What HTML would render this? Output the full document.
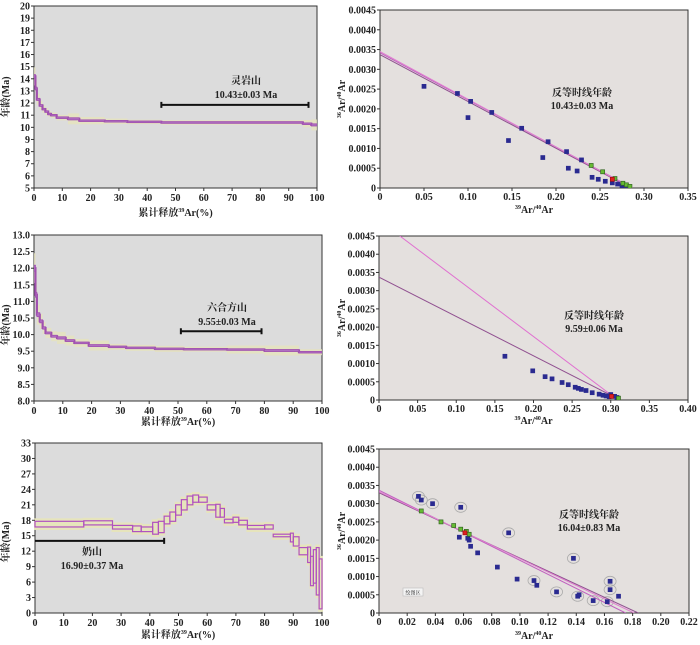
<!DOCTYPE html>
<html><head><meta charset="utf-8"><style>
html,body{margin:0;padding:0;background:#fff;width:700px;height:645px;overflow:hidden}
svg{display:block}
text{font-family:"Liberation Serif","Noto Serif CJK SC","Noto Sans CJK SC",serif;fill:#222}
.tk{font-size:10px;font-weight:bold}
.ann{font-size:10px;font-weight:bold}
</style></head><body>
<svg id="fig" width="700" height="645" viewBox="0 0 700 645" xmlns="http://www.w3.org/2000/svg"></svg>
<script>
// ---- Panel A (灵岩山) spectrum data
const aStart=[0,0.5,1,2,3,4,5,6,8,12,16,25,33,45,95,98];
const aEnd=[0.5,1,2,3,4,5,6,8,12,16,25,33,45,95,98,100];
const aAge=[14.2,13.2,12.3,11.8,11.5,11.3,11.1,11.0,10.8,10.7,10.55,10.5,10.45,10.4,10.3,10.2];
const aErr=[0.5,0.4,0.3,0.25,0.2,0.2,0.15,0.15,0.15,0.3,0.2,0.15,0.12,0.12,0.2,0.3];
const aTicksY=[5,6,7,8,9,10,11,12,13,14,15,16,17,18,19,20];
const pctTicks=[0,10,20,30,40,50,60,70,80,90,100];
// ---- Panel C (六合方山) spectrum data
const cStart=[0,0.5,1,2,3,4,6,8,11,14,19,26,32,42,52,67,80,92];
const cEnd=[0.5,1,2,3,4,6,8,11,14,19,26,32,42,52,67,80,92,100];
const cAge=[12.0,11.2,10.6,10.4,10.2,10.05,9.95,9.9,9.82,9.75,9.67,9.63,9.6,9.57,9.56,9.55,9.52,9.47];
const cErr=[0.3,0.25,0.2,0.15,0.12,0.1,0.1,0.12,0.1,0.08,0.1,0.06,0.06,0.06,0.05,0.08,0.1,0.06];
const cTicksY=[8.0,8.5,9.0,9.5,10.0,10.5,11.0,11.5,12.0,12.5,13.0];
// ---- Panel E (奶山) spectrum data
const eStart=[0,17,27,34,37,41,43,45,47,49,51,53,55,57,60,63,64.5,66,69,71,74,80,83,89,90,92,95,96,97,98,99];
const eEnd=[17,27,34,37,41,43,45,47,49,51,53,55,57,60,63,64.5,66,69,71,74,80,83,89,90,92,95,96,97,98,99,100];
const eLow=[16.7,17.1,16.3,15.8,15.8,15.3,15.6,17.3,17.8,19.0,20.0,21.0,21.5,21.5,20.0,18.6,18.6,17.5,17.6,17.1,16.3,16.3,14.8,13.8,13.0,11.3,9.8,5.3,5.8,3.5,0.8];
const eHigh=[17.8,17.9,17.0,16.9,16.7,17.6,17.8,18.8,19.6,21.0,22.0,22.7,22.9,22.5,21.0,21.1,20.3,18.2,18.6,18.0,17.0,17.1,15.3,15.5,14.8,12.7,12.8,11.0,12.3,12.7,10.5];
const eTicksY=[0,3,6,9,12,15,18,21,24,27,30,33];
// ---- Panel B isochron data
const bBlueX=[0.05,0.088,0.100,0.103,0.127,0.146,0.161,0.185,0.191,0.212,0.214,0.224,0.229,0.241,0.248,0.256,0.264,0.270,0.275,0.279];
const bBlueY=[0.00257,0.00239,0.00178,0.00219,0.00191,0.0012,0.00151,0.00077,0.00117,0.00092,0.0005,0.00043,0.00071,0.00027,0.00022,0.00017,0.00013,0.0001,0.00006,0.00002];
const bGreenX=[0.240,0.253,0.267,0.276,0.280,0.284];
const bGreenY=[0.00057,0.00041,0.00024,0.00012,0.00008,0.00004];
const bRedX=[0.264];const bRedY=[0.00022];
const bLineY0=[0.00342,0.00337,0.00345];const bLineX0=[0.287,0.285,0.286];
const bTicksX=[0,0.05,0.10,0.15,0.20,0.25,0.30,0.35];
const isoTicksY=[0,0.0005,0.0010,0.0015,0.0020,0.0025,0.0030,0.0035,0.0040,0.0045];
// ---- Panel D isochron data
const dBlueX=[0.163,0.199,0.215,0.224,0.237,0.245,0.254,0.258,0.262,0.268,0.276,0.285,0.29,0.294,0.298,0.3,0.305,0.308];
const dBlueY=[0.0012,0.0008,0.00064,0.00058,0.00048,0.00042,0.00035,0.00032,0.00029,0.00026,0.0002,0.00016,0.00013,0.00011,0.00009,0.00015,0.0001,0.00007];
const dGreenX=[0.31];const dGreenY=[0.00005];
const dRedX=[0.301];const dRedY=[0.0001];
const dLineX1=[0,0.027];const dLineY1=[0.00337,0.0045];const dLineX2=[0.303,0.303];const dLineY2=[0.0001,0.0001];
const dTicksX=[0,0.05,0.10,0.15,0.20,0.25,0.30,0.35,0.40];
// ---- Panel F isochron data
const fCircX=[0.028,0.030,0.038,0.058,0.092,0.110,0.112,0.126,0.138,0.141,0.142,0.152,0.162,0.164,0.164,0.170];
const fCircY=[0.0032,0.0031,0.0030,0.0029,0.0022,0.00089,0.00076,0.00058,0.0015,0.00046,0.0005,0.00034,0.00031,0.00087,0.00064,0.00046];
const fCircled=[1,1,1,1,1,1,0,1,1,1,0,1,1,1,1,0];
const fBlueX=[0.057,0.063,0.064,0.065,0.07,0.084,0.098];
const fBlueY=[0.00208,0.00205,0.0020,0.00183,0.00165,0.00126,0.00093];
const fGreenX=[0.03,0.044,0.053,0.058,0.062,0.064];
const fGreenY=[0.0028,0.0025,0.0024,0.0023,0.00224,0.00216];
const fRedX=[0.061];const fRedY=[0.0022];
const fLineY0=[0.00337,0.00330,0.00333];const fLineX0=[0.175,0.184,0.181];
const fTicksX=[0,0.02,0.04,0.06,0.08,0.10,0.12,0.14,0.16,0.18,0.20,0.22];

const NS="http://www.w3.org/2000/svg";
const svg=document.getElementById('fig');
function mk(tag,attrs,parent){const e=document.createElementNS(NS,tag);for(const k in attrs)e.setAttribute(k,attrs[k]);(parent||svg).appendChild(e);return e;}
function scale(d0,d1,r0,r1){return v=>r0+(v-d0)/(d1-d0)*(r1-r0);}
function fmtIso(v){return v===0?'0':v.toFixed(4);}
function fmtX(v,dec){return v===0?'0':v.toFixed(dec);}

function frame(g,L,T,R,B,bg){
  const r=mk('rect',{x:L,y:T,width:R-L,height:B-T,fill:bg,stroke:'#333','stroke-width':1},g);
  
  
}
function yAxis(g,ticks,sy,L,fmt){
  ticks.forEach(t=>{
    const y=sy(t);
    mk('line',{x1:L-3,x2:L,y1:y,y2:y,stroke:'#333'},g);
    const tx=mk('text',{x:L-4,y:y+3.5,'text-anchor':'end',class:'tk'},g);tx.textContent=fmt(t);
    
    
  });
}
function xAxis(g,ticks,sx,B,ly,fmt){
  ticks.forEach(t=>{
    const x=sx(t);
    mk('line',{x1:x,x2:x,y1:B,y2:B+3,stroke:'#333'},g);
    const tx=mk('text',{x:x,y:ly,'text-anchor':'middle',class:'tk'},g);tx.textContent=fmt(t);
    
    
  });
}
function label(g,x,y,txt,name,rot,size){
  const t=mk('text',{x:x,y:y,'text-anchor':'middle',class:'ann','font-size':size||10},g);
  if(rot)t.setAttribute('transform','rotate(-90 '+x+' '+y+')');
  t.innerHTML=txt;
  
  
  return t;
}
const SUP39='<tspan font-size="6" dy="-4">39</tspan><tspan dy="4">Ar/</tspan><tspan font-size="6" dy="-4">40</tspan><tspan dy="4">Ar</tspan>';
const SUP36='<tspan font-size="6" dy="-4">36</tspan><tspan dy="4">Ar/</tspan><tspan font-size="6" dy="-4">40</tspan><tspan dy="4">Ar</tspan>';
const XT_PCT='累计释放<tspan font-size="6" dy="-4">39</tspan><tspan dy="4">Ar(%)</tspan>';

function spectrum(name,L,T,R,B,ymin,ymax,ticksY,st,en,age,err,plat,txt1,txt2,tx,ty,ylbY,xtY){
  const g=mk('g',{});
  
  
  frame(g,L,T,R,B,'#dcdcdc');
  const sx=scale(0,100,L,R),sy=scale(ymin,ymax,B,T);
  const cp='cp-'+name;const c=mk('clipPath',{id:cp},g);mk('rect',{x:L,y:T,width:R-L,height:B-T},c);
  const gg=mk('g',{'clip-path':'url(#'+cp+')'},g);
  st.forEach((s,i)=>{const r=mk('rect',{x:sx(s),y:sy(age[i]+err[i]*1.5),width:sx(en[i])-sx(s),height:sy(age[i]-err[i]*1.5)-sy(age[i]+err[i]*1.5),fill:'#e6e4bc',opacity:0.8},gg);
    
    });
  let d='';
  st.forEach((s,i)=>{d+=(i===0?'M':'L')+sx(s)+' '+sy(age[i])+'L'+sx(en[i])+' '+sy(age[i]);});
  const pth=mk('path',{d:d,fill:'none',stroke:'#a050b0','stroke-width':2.2},gg);
  
  
  st.forEach((s,i)=>{const h=Math.max(1.6,sy(age[i]-err[i]*0.3)-sy(age[i]+err[i]*0.3));
    const r=mk('rect',{x:sx(s),y:sy(age[i])-h/2,width:sx(en[i])-sx(s),height:h,fill:'#b070c0',stroke:'#a050b0','stroke-width':0.8},gg);
    
    });
  yAxis(g,ticksY,sy,L,v=>ymax<14?v.toFixed(1):String(v));
  xAxis(g,pctTicks,sx,B,B+13,String);
  const py=sy(plat[2]);
  const pl=mk('path',{d:`M${sx(plat[0])} ${py}H${sx(plat[1])}M${sx(plat[0])} ${py-3}v6M${sx(plat[1])} ${py-3}v6`,stroke:'#111','stroke-width':2,fill:'none'},g);
  
  
  label(g,tx,ty,txt1,'sample-name');
  label(g,tx,ty+14,txt2,'plateau-age');
  label(g,9,ylbY,'年龄(Ma)','y-axis-title',true);
  label(g,(L+R)/2,xtY,XT_PCT,'x-axis-title');
}

function pts(g,xs,ys,sx,sy,fill,stroke,nm){
  xs.forEach((x,i)=>{const r=mk('rect',{x:sx(x)-2,y:sy(ys[i])-2,width:4,height:4,fill:fill,stroke:stroke,'stroke-width':0.7},g);
    
    });
}
function isoFrame(name,L,T,R,B,xmax,ticksX,dec,xtY){
  const g=mk('g',{});
  
  
  frame(g,L,T,R,B,'#e4e0de');
  const sx=scale(0,xmax,L,R),sy=scale(0,0.0045,B,T);
  yAxis(g,isoTicksY,sy,L,fmtIso);
  xAxis(g,ticksX,sx,B,B+12,v=>fmtX(v,dec));
  label(g,(L+R)/2,xtY,SUP39,'x-axis-title');
  label(g,345,(T+B)/2,SUP36,'y-axis-title',true);
  const cp='cp-'+name;const c=mk('clipPath',{id:cp},g);mk('rect',{x:L,y:T,width:R-L,height:B-T},c);
  const gg=mk('g',{'clip-path':'url(#'+cp+')'},g);
  return {g,gg,sx,sy};
}
function isoLine(gg,x1,y1,x2,y2,col){
  const l=mk('line',{x1:x1,y1:y1,x2:x2,y2:y2,stroke:col,'stroke-width':1},gg);
  
  
}
const LC=['#c060c0','#905090','#e080d0'];

spectrum('spectrum-lingyanshan',34,6,317,188,5,20,aTicksY,aStart,aEnd,aAge,aErr,[45,97,11.85],'灵岩山','10.43±0.03 Ma',246,84,97,216);
spectrum('spectrum-liuhefangshan',34,235,322,401,8,13,cTicksY,cStart,cEnd,cAge,cErr,[51,79,10.1],'六合方山','9.55±0.03 Ma',227,311,325,425);
// panel E: boxes
(function(){
  const L=35,T=443,R=322,B=613;
  const g=mk('g',{});
  
  
  frame(g,L,T,R,B,'#dcdcdc');
  const sx=scale(0,100,L,R),sy=scale(0,33,B,T);
  eStart.forEach((s,i)=>{const r=mk('rect',{x:sx(s)-1,y:sy(eHigh[i])-3,width:sx(eEnd[i])-sx(s)+2,height:sy(eLow[i])-sy(eHigh[i])+6,fill:'#e6e4bc'},g);
    
    });
  eStart.forEach((s,i)=>{const r=mk('rect',{x:sx(s),y:sy(eHigh[i]),width:sx(eEnd[i])-sx(s),height:sy(eLow[i])-sy(eHigh[i]),fill:'none',stroke:'#b050c0','stroke-width':1.2},g);
    
    });
  yAxis(g,eTicksY,sy,L,String);
  xAxis(g,pctTicks,sx,B,B+13,String);
  const py=sy(14);
  const pl=mk('path',{d:`M${sx(0)} ${py}H${sx(45)}M${sx(45)} ${py-3}v6`,stroke:'#111','stroke-width':2,fill:'none'},g);
  
  
  label(g,92,555,'奶山','sample-name');
  label(g,92,569,'16.90±0.37 Ma','plateau-age');
  label(g,9,542,'年龄(Ma)','y-axis-title',true);
  label(g,178,638,XT_PCT,'x-axis-title');
})();
// panel B
(function(){
  const p=isoFrame('isochron-lingyanshan',380,10,688,188,0.35,bTicksX,2,213);
  bLineY0.forEach((y0,i)=>isoLine(p.gg,p.sx(0),p.sy(y0),p.sx(bLineX0[i]),p.sy(0),LC[i]));
  pts(p.gg,bBlueX,bBlueY,p.sx,p.sy,'#2a2a90','#2a2a90','point-excluded');
  pts(p.gg,bGreenX,bGreenY,p.sx,p.sy,'#66bb33','#336622','point-included');
  pts(p.gg,bRedX,bRedY,p.sx,p.sy,'#e02020','#a01010','point-reference');
  label(p.g,582,96,'反等时线年龄','isochron-title');
  label(p.g,582,109,'10.43±0.03 Ma','isochron-age');
})();
// panel D
(function(){
  const p=isoFrame('isochron-liuhefangshan',379,236,688,400,0.40,dTicksX,2,424);
  dLineX1.forEach((x,i)=>isoLine(p.gg,p.sx(x),p.sy(dLineY1[i]),p.sx(dLineX2[i]),p.sy(dLineY2[i]),i===0?'#905090':'#e070d0'));
  pts(p.gg,dBlueX,dBlueY,p.sx,p.sy,'#2a2a90','#2a2a90','point-excluded');
  pts(p.gg,dGreenX,dGreenY,p.sx,p.sy,'#66bb33','#336622','point-included');
  pts(p.gg,dRedX,dRedY,p.sx,p.sy,'#e02020','#a01010','point-reference');
  label(p.g,594,319,'反等时线年龄','isochron-title');
  label(p.g,594,332,'9.59±0.06 Ma','isochron-age');
})();
// panel F
(function(){
  const p=isoFrame('isochron-naishan',379,449,689,613,0.22,fTicksX,2,639);
  fCircX.forEach((x,i)=>{if(fCircled[i]){const e=mk('ellipse',{cx:p.sx(x),cy:p.sy(fCircY[i]),rx:6,ry:5,fill:'none',stroke:'#aaa','stroke-width':0.8},p.gg);
    
    }});
  fLineY0.forEach((y0,i)=>isoLine(p.gg,p.sx(0),p.sy(y0),p.sx(fLineX0[i]),p.sy(0),LC[i]));
  pts(p.gg,fCircX,fCircY,p.sx,p.sy,'#2a2a90','#2a2a90','point-excluded');
  pts(p.gg,fBlueX,fBlueY,p.sx,p.sy,'#2a2a90','#2a2a90','point-excluded');
  pts(p.gg,fGreenX,fGreenY,p.sx,p.sy,'#66bb33','#336622','point-included');
  pts(p.gg,fRedX,fRedY,p.sx,p.sy,'#e02020','#a01010','point-reference');
  const b=mk('rect',{x:403,y:588,width:20,height:8,fill:'#f4f4f4',stroke:'#bbb','stroke-width':0.6},p.g);
  
  
  const t=mk('text',{x:413,y:594.5,'text-anchor':'middle','font-size':5,fill:'#999'},p.g);t.textContent='绘图区';
  
  
  label(p.g,589,518,'反等时线年龄','isochron-title');
  label(p.g,589,531,'16.04±0.83 Ma','isochron-age');
})();
</script>
</body></html>
